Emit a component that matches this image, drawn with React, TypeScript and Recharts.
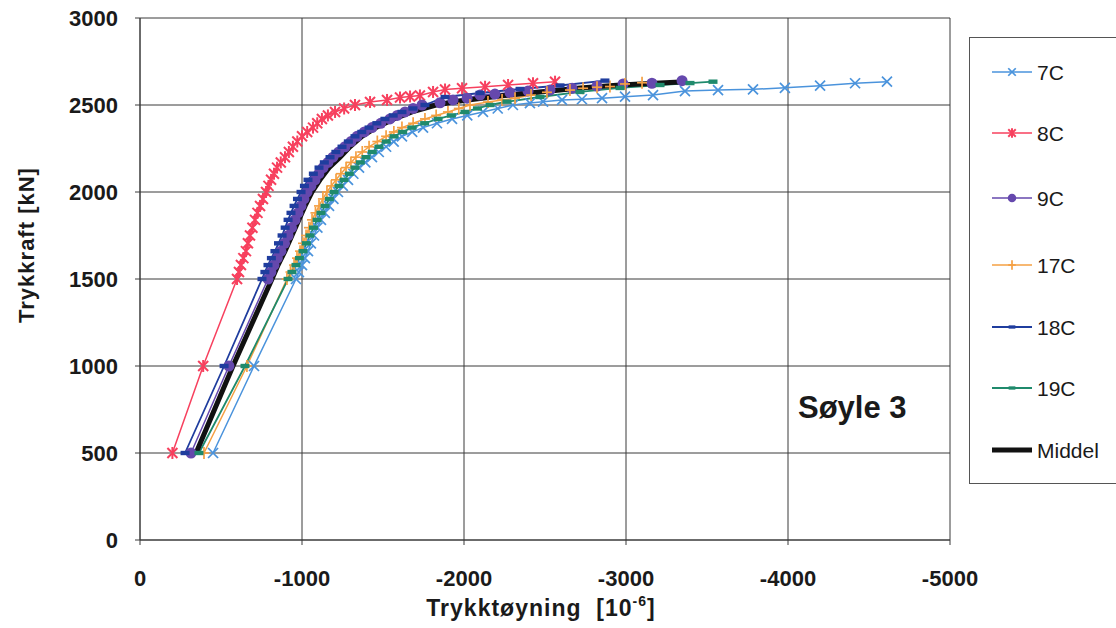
import React from "react";
import { LineChart, Line, XAxis, YAxis, CartesianGrid } from "recharts";

// [tøyning (10^-6), kraft (kN)]
const s7C = [
  [-451, 500], [-704, 1000], [-963, 1500], [-981, 1540], [-1000, 1580], [-1018, 1620],
  [-1037, 1660], [-1055, 1705], [-1074, 1750], [-1095, 1795], [-1117, 1840], [-1141, 1880],
  [-1167, 1920], [-1194, 1960], [-1222, 2000], [-1252, 2035], [-1284, 2070], [-1317, 2105],
  [-1352, 2140], [-1391, 2170], [-1432, 2200], [-1474, 2230], [-1519, 2260], [-1566, 2290],
  [-1617, 2320], [-1680, 2345], [-1747, 2370], [-1833, 2395], [-1926, 2420], [-2020, 2440],
  [-2117, 2460], [-2208, 2480], [-2302, 2500],
  [-2407, 2511], [-2488, 2519], [-2605, 2529], [-2728, 2533], [-2852, 2539], [-2994, 2548],
  [-3167, 2557], [-3364, 2580], [-3568, 2586], [-3784, 2590], [-3981, 2599], [-4198, 2611],
  [-4414, 2625], [-4611, 2634],
];
const s8C = [
  [-200, 500], [-390, 1000], [-599, 1500], [-611, 1540], [-623, 1580], [-638, 1620],
  [-654, 1660], [-666, 1705], [-679, 1750], [-694, 1795], [-710, 1840], [-725, 1880],
  [-741, 1920], [-759, 1960], [-778, 2000], [-793, 2035], [-809, 2070], [-827, 2105],
  [-846, 2140], [-869, 2170], [-895, 2200], [-919, 2230], [-944, 2260], [-971, 2290],
  [-1000, 2320], [-1032, 2345], [-1068, 2370], [-1094, 2395], [-1123, 2420], [-1160, 2440],
  [-1204, 2460], [-1260, 2480], [-1327, 2500],
  [-1420, 2517], [-1525, 2529], [-1605, 2543], [-1667, 2549], [-1728, 2555], [-1809, 2575],
  [-1883, 2589], [-1988, 2596], [-2130, 2605], [-2272, 2615], [-2426, 2625], [-2562, 2634],
];
const s9C = [
  [-315, 500], [-549, 1000], [-790, 1500], [-808, 1540], [-827, 1580], [-848, 1620],
  [-870, 1660], [-892, 1705], [-914, 1750], [-935, 1795], [-957, 1840], [-975, 1880],
  [-994, 1920], [-1012, 1960], [-1031, 2000], [-1055, 2035], [-1080, 2070], [-1104, 2105],
  [-1130, 2140], [-1160, 2170], [-1191, 2200], [-1227, 2230], [-1265, 2260], [-1302, 2290],
  [-1340, 2320], [-1385, 2345], [-1432, 2370], [-1486, 2395], [-1543, 2420], [-1588, 2440],
  [-1636, 2460], [-1686, 2480], [-1741, 2500],
  [-1852, 2513], [-1932, 2529], [-2019, 2539], [-2099, 2557], [-2191, 2563], [-2284, 2571],
  [-2395, 2580], [-2531, 2586], [-2667, 2596], [-2821, 2609], [-2982, 2621], [-3160, 2625],
  [-3346, 2640],
];
const s17C = [
  [-395, 500], [-660, 1000], [-907, 1500], [-929, 1540], [-951, 1580], [-969, 1620],
  [-988, 1660], [-1006, 1705], [-1025, 1750], [-1043, 1795], [-1062, 1840], [-1083, 1880],
  [-1105, 1920], [-1129, 1960], [-1154, 2000], [-1181, 2035], [-1210, 2070], [-1240, 2105],
  [-1272, 2140], [-1302, 2170], [-1333, 2200], [-1372, 2230], [-1414, 2260], [-1465, 2290],
  [-1519, 2320], [-1567, 2345], [-1617, 2370], [-1686, 2395], [-1759, 2420], [-1828, 2440],
  [-1901, 2460], [-1968, 2480], [-2037, 2500],
  [-2148, 2517], [-2235, 2529], [-2315, 2539], [-2414, 2557], [-2512, 2573], [-2654, 2586],
  [-2735, 2596], [-2821, 2602], [-2901, 2606], [-2994, 2621], [-3099, 2628],
];
const s18C = [
  [-278, 500], [-519, 1000], [-753, 1500], [-771, 1540], [-790, 1580], [-811, 1620],
  [-833, 1660], [-855, 1705], [-877, 1750], [-896, 1795], [-914, 1840], [-932, 1880],
  [-951, 1920], [-972, 1960], [-994, 2000], [-1015, 2035], [-1037, 2070], [-1070, 2105],
  [-1105, 2140], [-1138, 2170], [-1173, 2200], [-1209, 2230], [-1247, 2260], [-1286, 2290],
  [-1327, 2320], [-1369, 2345], [-1414, 2370], [-1462, 2395], [-1512, 2420], [-1563, 2440],
  [-1617, 2460], [-1685, 2480], [-1759, 2500],
  [-1883, 2546], [-2099, 2569], [-2346, 2592], [-2593, 2612], [-2870, 2640],
];
const s19C = [
  [-364, 500], [-648, 1000], [-914, 1500], [-938, 1540], [-963, 1580], [-984, 1620],
  [-1006, 1660], [-1027, 1705], [-1049, 1750], [-1071, 1795], [-1093, 1840], [-1117, 1880],
  [-1142, 1920], [-1169, 1960], [-1198, 2000], [-1228, 2035], [-1259, 2070], [-1292, 2105],
  [-1327, 2140], [-1360, 2170], [-1395, 2200], [-1434, 2230], [-1475, 2260], [-1520, 2290],
  [-1568, 2320], [-1621, 2345], [-1679, 2370], [-1757, 2395], [-1840, 2420], [-1922, 2440],
  [-2006, 2460], [-2083, 2480], [-2161, 2500],
  [-2265, 2519], [-2469, 2546], [-2716, 2575], [-2963, 2598], [-3210, 2615], [-3395, 2626],
  [-3537, 2634],
];
const sMiddel = [
  [-346, 500], [-574, 1000], [-815, 1500], [-852, 1580], [-895, 1660], [-938, 1750],
  [-981, 1840], [-1019, 1920], [-1062, 2000], [-1111, 2070], [-1167, 2140], [-1235, 2200],
  [-1296, 2260], [-1370, 2320], [-1457, 2370], [-1568, 2420], [-1679, 2460], [-1827, 2500],
  [-1975, 2523], [-2222, 2552], [-2469, 2575], [-2716, 2598], [-2963, 2615], [-3210, 2626],
  [-3364, 2634],
];

const xTicks = [0, -1000, -2000, -3000, -4000, -5000];
const yTicks = [0, 500, 1000, 1500, 2000, 2500, 3000];

type Shape = "x" | "star" | "circle" | "plus" | "dash" | "none";

const series: { name: string; data: number[][]; color: string; shape: Shape; width: number }[] = [
  { name: "7C", data: s7C, color: "#4a93dc", shape: "x", width: 1.5 },
  { name: "8C", data: s8C, color: "#f7405e", shape: "star", width: 1.5 },
  { name: "9C", data: s9C, color: "#6548ad", shape: "circle", width: 1.5 },
  { name: "17C", data: s17C, color: "#f5a043", shape: "plus", width: 1.5 },
  { name: "18C", data: s18C, color: "#1f3d9e", shape: "dash", width: 1.8 },
  { name: "19C", data: s19C, color: "#1f8a6c", shape: "dash", width: 1.8 },
  { name: "Middel", data: sMiddel, color: "#111111", shape: "none", width: 5 },
];

const font = "'Liberation Sans', Arial, sans-serif";

function Marker({ shape, color, cx, cy, s = 1 }: { shape: Shape; color: string; cx: number; cy: number; s?: number }) {
  const r = 5 * s;
  if (shape === "x")
    return (
      <g stroke={color} strokeWidth={1.7}>
        <line x1={cx - r} y1={cy - r} x2={cx + r} y2={cy + r} />
        <line x1={cx - r} y1={cy + r} x2={cx + r} y2={cy - r} />
      </g>
    );
  if (shape === "star")
    return (
      <g stroke={color} strokeWidth={2}>
        <line x1={cx - r} y1={cy - r} x2={cx + r} y2={cy + r} />
        <line x1={cx - r} y1={cy + r} x2={cx + r} y2={cy - r} />
        <line x1={cx} y1={cy - r - 1} x2={cx} y2={cy + r + 1} />
      </g>
    );
  if (shape === "circle") return <circle cx={cx} cy={cy} r={r + 0.5} fill={color} />;
  if (shape === "plus")
    return (
      <g stroke={color} strokeWidth={1.7}>
        <line x1={cx - r} y1={cy} x2={cx + r} y2={cy} />
        <line x1={cx} y1={cy - r - 1} x2={cx} y2={cy + r + 1} />
      </g>
    );
  if (shape === "dash") return <rect x={cx - 4.5 * s} y={cy - 2.2 * s} width={9 * s} height={4.4 * s} fill={color} />;
  return null;
}

function makeDot(shape: Shape, color: string) {
  return (p: any) => {
    if (p.cx == null || p.cy == null) return <g key={p.key} />;
    return (
      <g key={p.key}>
        <Marker shape={shape} color={color} cx={p.cx} cy={p.cy} />
      </g>
    );
  };
}

const legendY = [72, 133, 198, 265, 327, 388, 450];

export default function App() {
  return (
    <div style={{ position: "absolute", left: 0, top: 0, width: 1116, height: 628, background: "#fff" }}>
      <LineChart width={1116} height={628} margin={{ top: 18, right: 166, bottom: 0, left: 0 }}>
        <CartesianGrid stroke="#3a3a3a" strokeWidth={1} />
        <XAxis
          type="number"
          dataKey="x"
          domain={[-5000, 0]}
          reversed
          ticks={xTicks}
          height={88}
          stroke="#3a3a3a"
          tickSize={5}
          tickMargin={25}
          tick={{ fontFamily: font, fontWeight: "bold", fontSize: 22, fill: "#1a1a1a" }}
        />
        <YAxis
          type="number"
          dataKey="y"
          domain={[0, 3000]}
          ticks={yTicks}
          width={140}
          stroke="#3a3a3a"
          tickSize={5}
          tickMargin={17}
          tick={{ fontFamily: font, fontWeight: "bold", fontSize: 22, fill: "#1a1a1a" }}
        />
        {series.map((s) => (
          <Line
            key={s.name}
            name={s.name}
            data={s.data.map(([x, y]) => ({ x, y }))}
            dataKey="y"
            type="linear"
            stroke={s.color}
            strokeWidth={s.width}
            dot={s.shape === "none" ? false : makeDot(s.shape, s.color)}
            activeDot={false}
            isAnimationActive={false}
          />
        ))}
      </LineChart>
      <svg width={1116} height={628} style={{ position: "absolute", left: 0, top: 0, pointerEvents: "none" }}>
        <text
          x={26}
          y={245}
          transform="rotate(-90 26 245)"
          textAnchor="middle"
          dominantBaseline="central"
          fontFamily={font}
          fontWeight="bold"
          fontSize={22}
          letterSpacing={1}
          fill="#1a1a1a"
        >
          Trykkraft [kN]
        </text>
        <text x={541} y={616} textAnchor="middle" fontFamily={font} fontWeight="bold" fontSize={23} letterSpacing={1} fill="#1a1a1a">
          Trykktøyning{"\u00a0\u00a0"}[10
          <tspan fontSize={14} dy={-10}>-6</tspan>
          <tspan dy={10}>]</tspan>
        </text>
        <text x={798} y={418} fontFamily={font} fontWeight="bold" fontSize={31} fill="#1a1a1a">
          Søyle 3
        </text>
        <rect x={969.5} y={37.5} width={160} height={446} fill="#fff" stroke="#555" strokeWidth={1} />
        {series.map((s, i) => (
          <g key={s.name}>
            <line x1={992} y1={legendY[i]} x2={1032} y2={legendY[i]} stroke={s.color} strokeWidth={s.width} />
            {s.shape !== "none" && <Marker shape={s.shape} color={s.color} cx={1012} cy={legendY[i]} s={0.75} />}
            <text x={1037} y={legendY[i]} dominantBaseline="central" fontFamily={font} fontSize={21} fill="#1a1a1a">
              {s.name}
            </text>
          </g>
        ))}
      </svg>
    </div>
  );
}
